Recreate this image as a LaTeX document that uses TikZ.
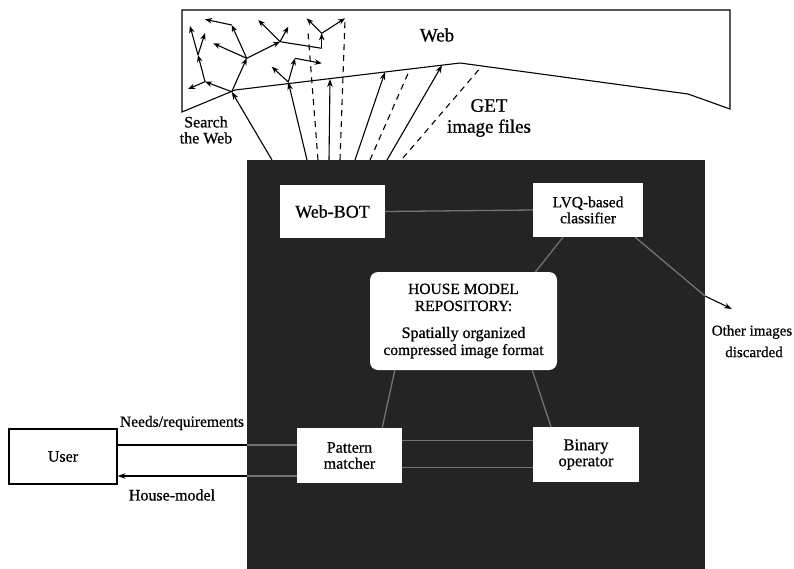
\documentclass[tikz,border=0pt]{standalone}
\usepackage{fontspec}
\setmainfont[FakeBold=0.7]{Liberation Serif}
\usetikzlibrary{arrows.meta}
\newcommand{\fs}[2]{\fontsize{#1}{#2}\selectfont}
\begin{document}
\begin{tikzpicture}[x=1pt,y=-1pt,
  wbox/.style={fill=white, inner sep=0pt, align=center},
  arr/.style={-{Stealth[length=8pt,width=5.5pt]}, line width=1.1pt},
  tarr/.style={-{Stealth[length=7pt,width=5.5pt]}, line width=1.1pt},
  dsh/.style={dash pattern=on 6pt off 5pt, line width=1.1pt},
  streak/.style={draw=black!55, line width=1.3pt},
  lbl/.style={inner sep=0pt, align=center}]
\useasboundingbox (0,0) rectangle (794,568);

% dark system block
\node[fill=black!86, minimum width=458pt, minimum height=420pt, anchor=north west, inner sep=0pt] (sys) at (247,160) {};

% web region
\draw[line width=1.1pt] (182,10) -- (730,10) -- (730,109) -- (688,94) -- (460,63) -- (235,90) -- (182,112) -- cycle;
\node[lbl, font=\fs{19}{21}] (weblbl) at (437,35) {Web};

% tree inside the web
\coordinate (tA) at (231.7,91.7);
\coordinate (tB) at (205,81.7);
\coordinate (tC) at (198,55);
\coordinate (tD) at (246.7,58.3);
\coordinate (tE) at (231.7,25);
\coordinate (tF) at (280,41.7);
\coordinate (tFk) at (321.7,48.3);
\coordinate (tG) at (321.7,33.3);
\coordinate (tH) at (288.3,82);
\coordinate (tI) at (295,58.3);
\coordinate (l1) at (188,89);
\coordinate (l2) at (190,26);
\coordinate (l3) at (205,33);
\coordinate (l4) at (213.3,43.3);
\coordinate (l5) at (205,19.3);
\coordinate (l6) at (258.3,20);
\coordinate (l7) at (288.3,26.7);
\coordinate (l8) at (306.7,18.3);
\coordinate (l9) at (345,18.3);
\coordinate (l10) at (271.7,66.7);
\coordinate (l11) at (321.7,63.3);
\draw[tarr] (tA) -- (tB);
\draw[tarr] (tB) -- (l1);
\draw[tarr] (tB) -- (tC);
\draw[tarr] (tC) -- (l2);
\draw[tarr] (tC) -- (l3);
\draw[tarr] (tA) -- (tD);
\draw[tarr] (tD) -- (l4);
\draw[tarr] (tD) -- (tE);
\draw[tarr] (tE) -- (l5);
\draw[tarr] (tD) -- (tF);
\draw[tarr] (tF) -- (l6);
\draw[tarr] (tF) -- (l7);
\draw[line width=1.1pt] (tF) -- (tFk);
\draw[tarr] (tFk) -- (tG);
\draw[tarr] (tG) -- (l8);
\draw[tarr] (tG) -- (l9);
\draw[tarr] (tH) -- (l10);
\draw[tarr] (tH) -- (tI);
\draw[tarr] (tI) -- (l11);

% arrows from the system to the web
\coordinate (b1) at (272,160);
\coordinate (b2) at (307,160);
\coordinate (b3) at (318,160);
\coordinate (b4) at (329,160);
\coordinate (b5) at (340,160);
\coordinate (b6) at (355,160);
\coordinate (b7) at (370,160);
\coordinate (b8) at (387,160);
\coordinate (b9) at (403,158);
\coordinate (w3) at (308,32);
\coordinate (w4) at (330,79);
\coordinate (w5) at (345,20);
\coordinate (w6) at (385,72);
\coordinate (w7) at (410,69);
\coordinate (w8) at (442,65.2);
\coordinate (w9) at (482,66);
\draw[arr] (b1) -- (tA);
\draw[arr] (b2) -- (tH);
\draw[dsh] (b3) -- (w3);
\draw[arr] (b4) -- (w4);
\draw[dsh] (b5) -- (w5);
\draw[arr] (b6) -- (w6);
\draw[dsh] (b7) -- (w7);
\draw[arr] (b8) -- (w8);
\draw[dsh] (b9) -- (w9);

\node[lbl, font=\fs{16}{16}] (search) at (206,130) {Search\\the Web};
\node[lbl, font=\fs{19}{21}] (get) at (489,118) {GET\\image files};

% boxes inside the system
\node[wbox, minimum width=105pt, minimum height=53pt, font=\fs{18}{18}] (webbot) at (332.5,211.5) {Web-BOT};
\node[wbox, minimum width=110pt, minimum height=54pt, font=\fs{15.5}{16}] (lvq) at (588,210) {LVQ-based\\classifier};
\node[wbox, rounded corners=8pt, minimum width=187pt, minimum height=98pt, font=\fs{15.5}{17}] (repo) at (463.5,321) {HOUSE MODEL\\REPOSITORY:\\[10pt]\fs{16}{23}Spatially organized\\compressed image format};
\node[wbox, minimum width=105pt, minimum height=55pt, font=\fs{16}{16}] (pm) at (349.5,455.5) {Pattern\\matcher};
\node[wbox, minimum width=106pt, minimum height=55pt, font=\fs{16.5}{16}] (binop) at (586,454.5) {Binary\\operator};

% faint connectors inside the system
\draw[streak] (webbot.east) -- (lvq.west);
\draw[streak] ([xshift=-25pt]lvq.south) -- ([xshift=72pt]repo.north);
\coordinate (exitp) at (705,296);
\draw[streak] ([xshift=-8pt]lvq.south east) -- (exitp);
\draw[streak] ([xshift=25pt]repo.south west) -- ([xshift=-20pt]pm.north east);
\draw[streak] ([xshift=-25pt]repo.south east) -- ([xshift=-35pt]binop.north);
\draw[streak] ([yshift=15pt]pm.east) -- ([yshift=14pt]binop.west);
\draw[streak] ([yshift=-12pt]pm.east) -- ([yshift=-13pt]binop.west);

% discarded images
\coordinate (disc) at (732,309);
\draw[arr] (exitp) -- (disc);
\node[lbl, font=\fs{15}{15}] (other) at (752,332) {Other images};
\node[lbl, font=\fs{15}{15}] (discarded) at (754,352) {discarded};

% user
\node[draw, line width=1.2pt, minimum width=108pt, minimum height=55pt, inner sep=0pt, font=\fs{16}{16}] (user) at (63,456.5) {User};
\coordinate (edgeA) at (sys.west |- 0,445);
\coordinate (edgeB) at (sys.west |- 0,476);
\draw[line width=1.1pt] ([yshift=11.5pt]user.east) -- (edgeA);
\draw[streak] (edgeA) -- (pm.west |- edgeA);
\draw[arr] (edgeB) -- ([yshift=-19.5pt]user.east);
\draw[streak] (pm.west |- edgeB) -- (edgeB);
\node[lbl, font=\fs{15.5}{16}] (needs) at (182,423) {Needs/requirements};
\node[lbl, font=\fs{16}{16}] (house) at (172,495) {House-model};
\end{tikzpicture}
\end{document}
